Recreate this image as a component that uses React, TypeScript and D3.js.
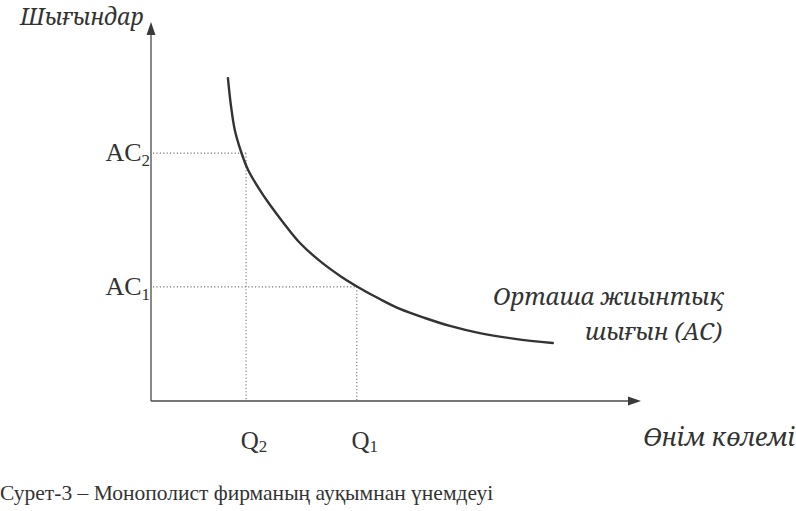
import React from "react";
import * as d3 from "d3";

// Curve: average total cost (AC) vs output (Q), in chart units 0..100
const curveQ = [15.7, 16.3, 17.1, 18.4, 19.8, 21.8, 24.3, 27.4, 30.4, 34.5, 38.6, 42.2, 46.7, 50.8, 55.9, 61.0, 67.1, 74.3, 82.0];
const curveAC = [85.2, 78.1, 71.5, 65.7, 61.0, 56.5, 51.7, 46.4, 41.7, 36.9, 33.0, 30.1, 26.9, 24.3, 21.9, 19.8, 17.9, 16.4, 15.3];

const qMarks = [
  { label: "Q", sub: "2", value: 19.4 },
  { label: "Q", sub: "1", value: 42.0 },
];
const acMarks = [
  { label: "AC", sub: "2", value: 65.4, q: 19.4 },
  { label: "AC", sub: "1", value: 30.1, q: 42.0 },
];

const yTitle = "Шығындар";
const xTitle = "Өнім көлемі";
const curveLabel = ["Орташа жиынтық", "шығын (АС)"];
const caption = "Сурет-3 – Монополист фирманың ауқымнан үнемдеуі";

const W = 796;
const H = 511;

export default function App() {
  const x = d3.scaleLinear().domain([0, 100]).range([151, 641]);
  const y = d3.scaleLinear().domain([0, 100]).range([401, 22]);

  const pts: [number, number][] = curveQ.map((q, i) => [q, curveAC[i]]);
  const line = d3
    .line<[number, number]>()
    .x((d) => x(d[0]))
    .y((d) => y(d[1]))
    .curve(d3.curveCatmullRom.alpha(0.5));

  const serif = "Liberation Serif, Noto Serif, DejaVu Serif, serif";
  const italicSerif = "Noto Serif, DejaVu Serif, serif";
  const axisColor = "#4a4a4a";
  const textColor = "#333";

  const x0 = x(0);
  const y0 = y(0);
  const yTop = y(100);
  const xEnd = x(100);

  return (
    <svg width={W} height={H} style={{ position: "absolute", left: 0, top: 0 }}>
      <rect x={0} y={0} width={W} height={H} fill="#fff" />
      {/* axes */}
      <line x1={x0} y1={y0} x2={x0} y2={yTop + 10} stroke={axisColor} strokeWidth={1.3} />
      <line x1={x0} y1={y0} x2={xEnd - 10} y2={y0} stroke={axisColor} strokeWidth={1.3} />
      <path
        d={`M${x0},${yTop} L${x0 - 4.5},${yTop + 13} L${x0 + 4.5},${yTop + 13} Z`}
        fill="#3a3a3a"
      />
      <path
        d={`M${xEnd},${y0} L${xEnd - 13},${y0 - 4.5} L${xEnd - 13},${y0 + 4.5} Z`}
        fill="#3a3a3a"
      />

      {/* dotted guides */}
      {acMarks.map((m, i) => (
        <g key={"g" + i}>
          <line
            x1={x0 + 2}
            x2={x(m.q)}
            y1={y(m.value)}
            y2={y(m.value)}
            stroke="#777"
            strokeWidth={1.1}
            strokeDasharray="1.2,2.2"
          />
          <line
            x1={x(m.q)}
            x2={x(m.q)}
            y1={y(m.value)}
            y2={y0}
            stroke="#777"
            strokeWidth={1.1}
            strokeDasharray="1.2,2.2"
          />
        </g>
      ))}

      {/* AC curve */}
      <path d={line(pts) || ""} fill="none" stroke="#333" strokeWidth={2.4} strokeLinecap="round" />

      {/* y labels */}
      {acMarks.map((m, i) => (
        <text
          key={"ac" + i}
          x={x0 - 1}
          y={y(m.value) + 8}
          textAnchor="end"
          fontFamily={serif}
          fontSize={26}
          fill={textColor}
        >
          {m.label}
          <tspan fontSize={17} dy={5}>
            {m.sub}
          </tspan>
        </text>
      ))}

      {/* x labels */}
      {qMarks.map((m, i) => (
        <text
          key={"q" + i}
          x={x(m.value) + 8}
          y={449}
          textAnchor="middle"
          fontFamily={serif}
          fontSize={25}
          fill={textColor}
        >
          {m.label}
          <tspan fontSize={17} dy={3}>
            {m.sub}
          </tspan>
        </text>
      ))}

      {/* titles */}
      <text x={20} y={25} fontFamily={italicSerif} fontStyle="italic" fontSize={23} fill={textColor}>
        {yTitle}
      </text>
      <text x={795} y={446} textAnchor="end" fontFamily={italicSerif} fontStyle="italic" fontSize={25} fill={textColor}>
        {xTitle}
      </text>
      <text x={724} y={305} textAnchor="end" fontFamily={italicSerif} fontStyle="italic" fontSize={24} fill={textColor}>
        {curveLabel[0]}
      </text>
      <text x={722} y={340} textAnchor="end" fontFamily={italicSerif} fontStyle="italic" fontSize={24} fill={textColor}>
        {curveLabel[1]}
      </text>

      {/* caption */}
      <text x={0} y={500} fontFamily={serif} fontSize={21.5} fill={textColor}>
        {caption}
      </text>
    </svg>
  );
}
